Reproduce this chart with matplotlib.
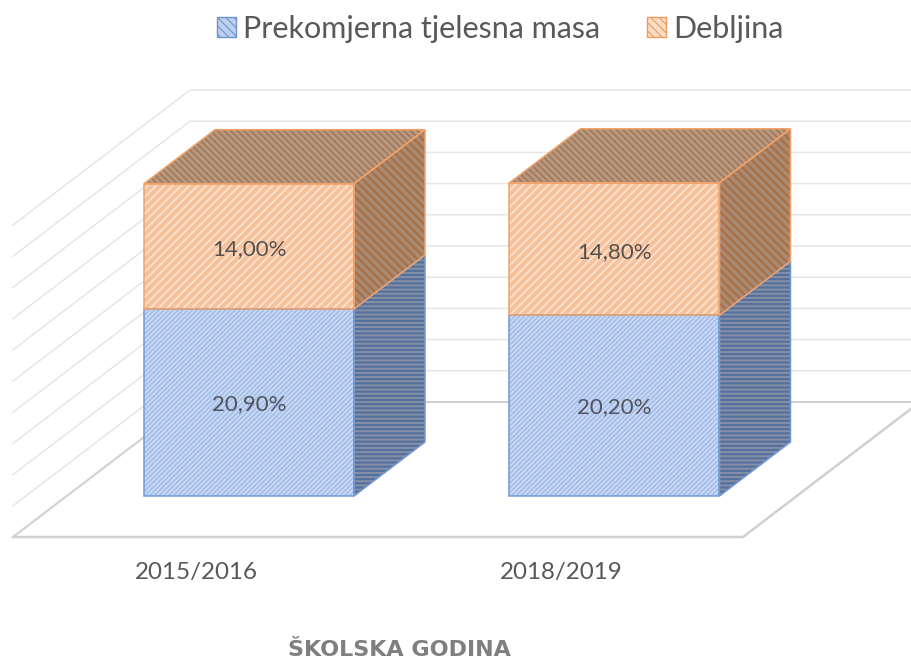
import numpy as np
import matplotlib
matplotlib.use("Agg")
import matplotlib.pyplot as plt
from matplotlib.patches import Polygon, Patch

plt.rcParams['font.family'] = ['Lato', 'DejaVu Sans']
plt.rcParams['hatch.linewidth'] = 0.8

years = ['2015/2016', '2018/2019']
prekomjerna = [20.90, 20.20]
debljina = [14.00, 14.80]
grid_values = [0, 5, 10, 15, 20, 25, 30, 35, 40, 45, 50]
series_names = ['Prekomjerna tjelesna masa', 'Debljina']
axis_title = 'ŠKOLSKA GODINA'

# 1 category = 365.5 px, 1 % = 8.95 px on the front of the bars
PX_X = 365.5
PX_Y = 8.95
W = 912
H = 660
x0_px = 249
y0_px = 496

bar_w = 210 / PX_X
depth_x = 71 / PX_X
depth_y = 54 / PX_Y

# walls and floor of the fake 3d box
wall_left = (190 - x0_px) / PX_X
floor_back = (y0_px - 402) / PX_Y
front_left = (13 - x0_px) / PX_X
front_right = (743 - x0_px) / PX_X
floor_front = (y0_px - 537) / PX_Y
wall_scale = 31.2 / 5 / PX_Y
right_end = (W - x0_px) / PX_X
slope = (floor_back - floor_front) / (wall_left - front_left)

fig = plt.figure(figsize=(9.12, 6.6), dpi=100)
ax = fig.add_axes([0, 0, 1, 1])
ax.set_xlim(-x0_px / PX_X, (W - x0_px) / PX_X)
ax.set_ylim(-(H - y0_px) / PX_Y, y0_px / PX_Y)
ax.axis('off')

# gridlines
for v in grid_values:
    yb = floor_back + v * wall_scale
    ax.plot([front_left, wall_left, right_end],
            [floor_front + v * wall_scale, yb, yb], color='#e6e6e6', lw=1.1, zorder=1)

# floor outline
ax.plot([wall_left, right_end], [floor_back, floor_back], color='#d0d0d0', lw=1.4, zorder=1)
ax.plot([front_left, front_right, right_end + 0.02],
        [floor_front, floor_front, floor_front + (right_end + 0.02 - front_right) * slope],
        color='#d0d0d0', lw=1.8, zorder=1)
ax.plot([front_left, wall_left], [floor_front, floor_back], color='#d4d4d4', lw=1.6, zorder=1)


def face(pts, fc, hc, hatch, hlw, ec):
    p = Polygon(pts, closed=True, facecolor=fc, edgecolor=hc, hatch=hatch, lw=0, zorder=3)
    p.set_hatch_linewidth(hlw)
    ax.add_patch(p)
    ax.add_patch(Polygon(pts, closed=True, fill=False, edgecolor=ec, lw=1.1, zorder=4))


def block(x, y1, y2, front, side, ec, top=None):
    xl, xr = x - bar_w / 2, x + bar_w / 2
    face([(xl, y1), (xr, y1), (xr, y2), (xl, y2)], *front, ec)
    face([(xr, y1), (xr + depth_x, y1 + depth_y), (xr + depth_x, y2 + depth_y), (xr, y2)], *side, ec)
    if top is not None:
        face([(xl, y2), (xr, y2), (xr + depth_x, y2 + depth_y), (xl + depth_x, y2 + depth_y)], *top, ec)


for i in range(len(years)):
    a = prekomjerna[i]
    b = debljina[i]
    block(i, 0, a,
          ('#a8c1eb', '#d6e2f6', '///////', 0.8),
          ('#56709c', '#8590a6', '----', 1.4),
          '#7399d6')
    block(i, a, a + b,
          ('#f7c19b', '#fde6d5', '////', 1.2),
          ('#a68c76', '#ad7044', '\\\\\\\\', 1.8),
          '#f0a26a',
          top=('#b39a86', '#aa7750', '\\\\\\\\\\', 1.3))
    ax.text(i, a / 2 - 0.2, f'{a:.2f}%'.replace('.', ','), ha='center', va='center',
            fontsize=16, color='#50545c', zorder=5)
    ax.text(i, a + b / 2 - 0.3, f'{b:.2f}%'.replace('.', ','), ha='center', va='center',
            fontsize=16, color='#54504c', zorder=5)
    ax.text(i - 53 / PX_X, (y0_px - 572) / PX_Y, years[i], ha='center', va='center',
            fontsize=17.4, color='#595959')

ax.text((399 - x0_px) / PX_X, (y0_px - 650) / PX_Y, axis_title, ha='center', va='center',
        fontsize=16, fontweight='bold', color='#7f7f7f', family='DejaVu Sans')

handles = [Patch(facecolor='#bdd0ee', edgecolor='#6e93d0', hatch='\\\\\\\\'),
           Patch(facecolor='#fbdcc4', edgecolor='#ee9a5e', hatch='\\\\\\\\')]
ax.legend(handles, series_names, loc='center', bbox_to_anchor=(500 / W, 1 - 29 / H),
          ncol=2, frameon=False, fontsize=22, labelcolor='#595959', handlelength=0.62,
          handleheight=0.62, handletextpad=0.23, columnspacing=1.54,
          borderpad=0, borderaxespad=0)

fig.savefig('out.png', dpi=100)
